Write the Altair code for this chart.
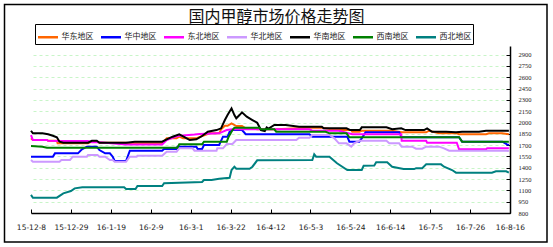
import altair as alt
import pandas as pd

chart_title = "国内甲醇市场价格走势图"
series_names = ["华东地区", "华中地区", "东北地区", "华北地区", "华南地区", "西南地区", "西北地区"]
series_colors = ["#FF6600", "#0000FF", "#FF00FF", "#CC99FF", "#000000", "#008000", "#008080"]
start_date = "2015-12-08"
x_tick_dates = ["2015-12-08", "2015-12-29", "2016-01-19", "2016-02-09", "2016-03-01",
                "2016-03-22", "2016-04-12", "2016-05-03", "2016-05-24", "2016-06-14",
                "2016-07-05", "2016-07-26", "2016-08-16"]
y_ticks = [800, 950, 1100, 1250, 1400, 1550, 1700, 1850, 2000, 2150, 2300, 2450, 2600, 2750, 2900]

# day offsets from start_date and prices
east_days = [0, 1, 8.4, 9, 13.6, 14, 30, 32, 35, 36, 50, 52, 69, 71.4, 76.6, 78, 80, 87, 90, 94, 99,
             100, 102, 103.4, 105.5, 108, 111, 113, 116.5, 119, 129, 146.5, 153, 160.6, 168.5, 169,
             172.7, 174, 190, 195, 207.9, 209.4, 214.7, 224, 225.2, 239.4, 241, 247.8, 251.4]
east_vals = [1790, 1768, 1768, 1758, 1758, 1724, 1724, 1746, 1746, 1732, 1732, 1724, 1724, 1790, 1790,
             1812, 1790, 1790, 1821, 1857, 1857, 1910, 1957, 1957, 1989, 1953, 1953, 1923, 1923, 1910,
             1910, 1931, 1931, 1900, 1900, 1878, 1878, 1891, 1891, 1870, 1870, 1891, 1857, 1857, 1844,
             1844, 1857, 1857, 1844]

central_days = [0, 11.5, 12.6, 24.7, 26.8, 29.4, 34.6, 36, 39, 41.5, 43, 44, 50, 52, 69, 70, 76.6, 77,
                87, 87.7, 90, 91, 99, 101, 103.4, 104.5, 106, 111, 113, 146.5, 148, 166.4, 167.5,
                172.7, 174, 176, 193.7, 195, 225.2, 226.8, 248, 250.4, 251.4]
central_vals = [1547, 1547, 1591, 1591, 1645, 1680, 1680, 1635, 1591, 1591, 1547, 1490, 1490, 1626,
                1626, 1649, 1649, 1680, 1680, 1649, 1649, 1702, 1702, 1812, 1812, 1878, 1900, 1900,
                1844, 1844, 1812, 1812, 1746, 1746, 1790, 1870, 1870, 1804, 1804, 1746, 1746, 1710, 1702]

northeast_days = [0, 1, 8.4, 9, 17, 30, 32, 36, 50, 69, 71.4, 77, 86, 88.7, 99, 101, 103, 106, 146.5,
                  148, 162, 169, 194.8, 195, 207.9, 208.4, 224, 225.2, 239.4, 240, 251.4]
northeast_vals = [1834, 1768, 1768, 1758, 1755, 1755, 1740, 1740, 1710, 1710, 1768, 1821, 1840, 1848,
                  1857, 1880, 1900, 1910, 1910, 1891, 1891, 1844, 1844, 1758, 1758, 1732, 1732, 1645,
                  1645, 1658, 1658]

north_days = [0, 1, 15, 16, 20.5, 22, 29.4, 30, 35, 36, 39, 41.5, 43, 44, 50, 52, 55.6, 56, 69, 71.4,
              76.6, 78, 85, 86, 97.6, 98, 101, 103, 106, 108, 139.6, 141, 146.5, 148, 157, 159.6, 162,
              166, 168.5, 170, 172.7, 187, 188.5, 193.7, 195, 200.5, 202.6, 205.8, 207.9, 214.7, 217.3,
              220, 250, 251.4]
north_vals = [1503, 1480, 1480, 1503, 1503, 1547, 1547, 1569, 1569, 1547, 1547, 1503, 1503, 1480, 1480,
              1547, 1547, 1560, 1560, 1613, 1613, 1658, 1658, 1626, 1626, 1658, 1658, 1715, 1715, 1768,
              1768, 1798, 1798, 1834, 1834, 1790, 1724, 1724, 1680, 1724, 1758, 1758, 1724, 1724, 1680,
              1680, 1653, 1653, 1680, 1680, 1658, 1626, 1626, 1622]

south_days = [0, 1, 6, 9, 11.5, 13.6, 15, 17, 30, 32, 34.6, 36, 50, 54.6, 69, 71.4, 74.5, 78, 81, 83.5,
              87, 90, 93, 97.6, 100, 102, 103.4, 105.5, 107, 108, 109.7, 111, 113.5, 116.5, 119, 121,
              123, 124, 125, 128, 134, 141, 153, 154, 166, 168, 173, 174, 187, 190, 194.8, 197, 206.8,
              208.4, 211, 218.4, 223.6, 226.8, 235.7, 239.4, 251.4]
south_vals = [1891, 1857, 1857, 1844, 1825, 1804, 1746, 1732, 1732, 1758, 1758, 1732, 1732, 1746, 1746,
              1777, 1812, 1844, 1804, 1768, 1777, 1821, 1878, 1900, 1923, 2033, 2099, 2188, 2099, 2056,
              2099, 2135, 2077, 2033, 1998, 1900, 1887, 1936, 1920, 1967, 1967, 1944, 1944, 1923, 1923,
              1900, 1900, 1936, 1936, 1910, 1923, 1900, 1900, 1923, 1878, 1878, 1870, 1878, 1878, 1891,
              1891]

southwest_days = [0, 6, 8.4, 77, 78, 90, 91, 103, 104, 106, 107, 120, 121, 128, 129, 155, 157, 166,
                  167.5, 225.2, 226.8, 251.4]
southwest_vals = [1689, 1680, 1666, 1666, 1711, 1711, 1746, 1746, 1812, 1900, 1930, 1930, 1910, 1910,
                  1878, 1878, 1857, 1857, 1804, 1804, 1746, 1746]

northwest_days = [0, 1, 13.6, 17, 21, 23, 27, 49, 50, 55, 56, 69, 70, 90, 91, 95, 99, 104.5, 105.5,
                  107, 108, 115, 116.5, 119, 148, 149, 150, 157, 161, 166.4, 174, 175, 180.6, 181.6,
                  187.4, 190, 196, 201.6, 202.6, 205.8, 207.9, 215.7, 217.3, 221.5, 223.6, 242.5, 244.6,
                  250, 251.4]
northwest_vals = [1040, 1003, 1003, 1061, 1092, 1127, 1141, 1141, 1118, 1118, 1158, 1158, 1194, 1211,
                  1238, 1238, 1255, 1268, 1370, 1414, 1387, 1387, 1414, 1499, 1503, 1578, 1547, 1547,
                  1459, 1370, 1370, 1427, 1430, 1472, 1472, 1414, 1383, 1383, 1395, 1395, 1445, 1445,
                  1414, 1370, 1335, 1335, 1353, 1353, 1335]

all_days = [east_days, central_days, northeast_days, north_days, south_days, southwest_days, northwest_days]
all_vals = [east_vals, central_vals, northeast_vals, north_vals, south_vals, southwest_vals, northwest_vals]

frames = []
for i, (name, d, v) in enumerate(zip(series_names, all_days, all_vals)):
    frames.append(pd.DataFrame({
        "date": pd.Timestamp(start_date) + pd.to_timedelta(d, unit="D"),
        "price": v,
        "series": name,
        "order": i,
    }))
df = pd.concat(frames, ignore_index=True)

x_vals = [alt.DateTime(year=int(s[:4]), month=int(s[5:7]), date=int(s[8:10])) for s in x_tick_dates]
x_domain = [alt.DateTime(year=2015, month=12, date=8), alt.DateTime(year=2016, month=8, date=16)]
y_domain = [800, 3015]

x_scale = alt.Scale(domain=x_domain, nice=False)
y_scale = alt.Scale(domain=y_domain, nice=False, zero=False)

lines = alt.Chart(df).mark_line(strokeWidth=2, interpolate="linear").encode(
    x=alt.X("date:T", scale=x_scale,
            axis=alt.Axis(orient="bottom", values=x_vals, format="%y-%-m-%-d", title=None,
                          grid=False, domainColor="black", domainWidth=1.5, tickSize=0,
                          labelPadding=10, labelFont="DejaVu Sans", labelFontSize=7.5,
                          labelColor="#222222", labelAngle=0, labelOverlap=False,
                          labelFlush=False)),
    y=alt.Y("price:Q", scale=y_scale,
            axis=alt.Axis(orient="right", values=y_ticks, format="d", title=None, grid=True,
                          gridColor="#C8F5C8", gridDash=[3, 3], gridWidth=1,
                          domainColor="black", domainWidth=1.5, tickSize=0, labelPadding=8,
                          labelFont="Liberation Sans Narrow", labelFontSize=6.5, labelColor="#222222",
                          labelOverlap=False, labelFlush=False)),
    color=alt.Color("series:N", scale=alt.Scale(domain=series_names, range=series_colors),
                    legend=alt.Legend(orient="none", legendX=4, legendY=-22, direction="horizontal",
                                      columns=7, title=None, symbolType="stroke", symbolSize=400,
                                      symbolStrokeWidth=2.5, labelFont="Noto Sans CJK SC",
                                      labelFontSize=8, labelOffset=2, columnPadding=2, padding=1.5,
                                      strokeColor="black", fillColor="white", labelColor="#222222")),
    detail="series:N",
    order=alt.Order("order:Q"),
)

ticks = alt.Chart(df).mark_line(opacity=0).encode(
    x=alt.X("date:T", scale=x_scale,
            axis=alt.Axis(orient="top", offset=-167, values=x_vals, labels=False, domain=False,
                          grid=False, tickSize=4, tickColor="black", title=None)),
    y=alt.Y("price:Q", scale=y_scale,
            axis=alt.Axis(orient="left", offset=-479, values=y_ticks, labels=False, domain=False,
                          grid=False, tickSize=4, tickColor="black", title=None)),
    detail="series:N",
)

frame = alt.Chart(alt.Data(values=[{}])).mark_rect(fill=None, stroke="black", strokeWidth=1.5).encode(
    x=alt.value(-26.5), x2=alt.value(516), y=alt.value(-41.5), y2=alt.value(196)
)

chart = alt.layer(lines, ticks, frame).resolve_axis(x="independent", y="independent").properties(
    width=479, height=167,
    title=alt.TitleParams(chart_title, font="Noto Sans CJK SC", fontSize=16, fontWeight="normal",
                          color="#111111", anchor="middle", offset=4, dy=25, dx=6),
    padding={"left": 31, "top": 46, "right": 43, "bottom": 34},
    autosize=alt.AutoSizeParams(type="none"),
    background="white",
).configure_view(stroke=None)

chart.save("out.html", embed_options={"renderer": "svg", "actions": False})
